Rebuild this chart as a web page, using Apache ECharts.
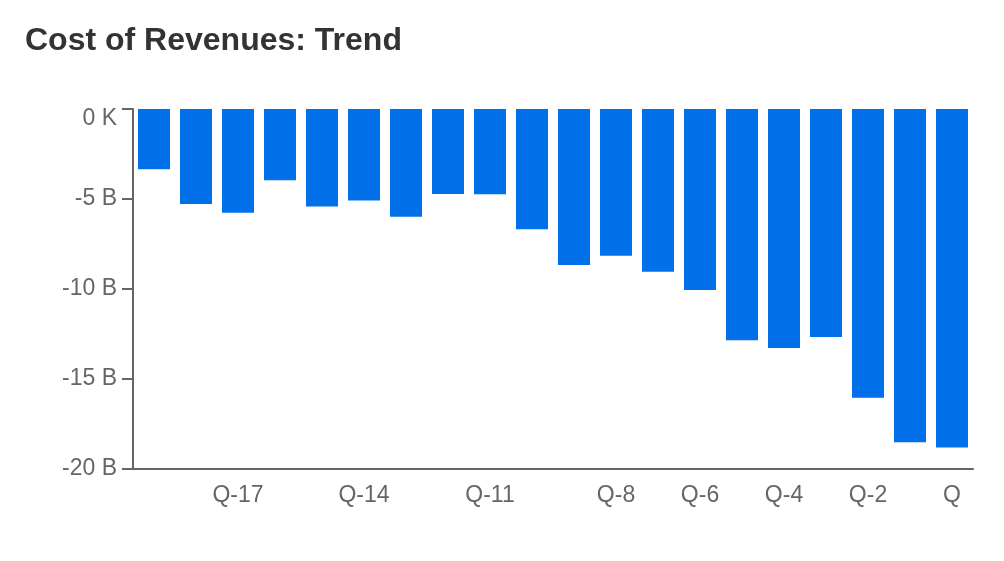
<!DOCTYPE html>
<html>
<head>
<meta charset="utf-8">
<title>Cost of Revenues: Trend</title>
<script src="https://cdn.jsdelivr.net/npm/echarts@6/dist/echarts.min.js"></script>
<style>
  html, body { margin: 0; padding: 0; background: #fff; }
  #chart { width: 1004px; height: 561px; }
</style>
</head>
<body>
<div id="chart"></div>
<script>
// quarters, oldest first
const quarters = ['Q-19', 'Q-18', 'Q-17', 'Q-16', 'Q-15', 'Q-14', 'Q-13', 'Q-12', 'Q-11', 'Q-10',
  'Q-9', 'Q-8', 'Q-7', 'Q-6', 'Q-5', 'Q-4', 'Q-3', 'Q-2', 'Q-1', 'Q'];
// cost of revenues, in billions
const costOfRevenues = [-3.35, -5.28, -5.76, -3.96, -5.41, -5.09, -5.98, -4.72, -4.74, -6.68,
  -8.67, -8.15, -9.04, -10.06, -12.85, -13.28, -12.67, -16.04, -18.52, -18.8];
// which category labels are printed
const shownLabels = ['Q-17', 'Q-14', 'Q-11', 'Q-8', 'Q-6', 'Q-4', 'Q-2', 'Q'];
const yTicks = [0, -5, -10, -15, -20];

const chart = echarts.init(document.getElementById('chart'));

const option = {
  animation: false,
  textStyle: { fontFamily: 'Liberation Sans, Arial, sans-serif' },
  title: {
    text: 'Cost of Revenues: Trend',
    left: 20,
    top: 20,
    textStyle: { fontSize: 32, fontWeight: 'bold', color: '#333' }
  },
  grid: { left: 133, right: 31, top: 109, bottom: 92 },
  xAxis: {
    type: 'category',
    data: quarters,
    axisLine: { onZero: false, lineStyle: { color: '#666', width: 2 } },
    axisTick: { show: false },
    axisLabel: {
      interval: (i, name) => shownLabels.includes(name),
      color: '#666',
      fontSize: 23,
      margin: 15
    }
  },
  yAxis: {
    type: 'value',
    min: Math.min(...yTicks),
    max: Math.max(...yTicks),
    interval: 5,
    axisLine: { show: true, lineStyle: { color: '#666', width: 2 } },
    axisTick: { show: true, length: 11, lineStyle: { color: '#666', width: 2 } },
    splitLine: { show: false },
    axisLabel: {
      color: '#666',
      fontSize: 23,
      margin: 16,
      // the top label sits a little below its tick
      formatter: v => (v === 0 ? '{top|0 K}' : v + ' B'),
      rich: {
        top: { color: '#666', fontSize: 23, padding: [20, 0, 0, 0] }
      }
    }
  },
  series: [{
    type: 'bar',
    data: costOfRevenues,
    barWidth: 32,
    itemStyle: { color: '#0270e8' }
  }]
};

chart.setOption(option);
window.addEventListener('resize', () => chart.resize());
</script>
</body>
</html>
